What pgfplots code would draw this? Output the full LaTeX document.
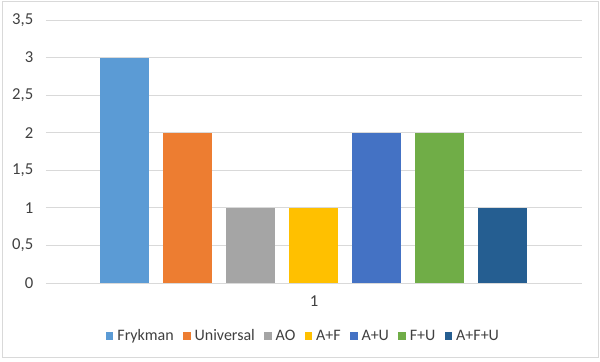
\documentclass[border=0pt]{standalone}
\usepackage{pgfplots}
\pgfplotsset{compat=1.18}
\usepackage{fontspec}
\setmainfont{Carlito}
\definecolor{c1}{HTML}{5B9BD5}
\definecolor{c2}{HTML}{ED7D31}
\definecolor{c3}{HTML}{A5A5A5}
\definecolor{c4}{HTML}{FFC000}
\definecolor{c5}{HTML}{4472C4}
\definecolor{c6}{HTML}{70AD47}
\definecolor{c7}{HTML}{255E91}
\definecolor{gridc}{HTML}{D9D9D9}
\definecolor{txt}{HTML}{404040}
\begin{document}
\begin{tikzpicture}
\useasboundingbox (0,0) rectangle (450pt,270.75pt);
\draw[gridc, line width=0.75pt] (1.5pt,3pt) rectangle (448.5pt,269.25pt);
\begin{axis}[
  at={(34.5pt,58.5pt)}, anchor=south west,
  scale only axis, width=402pt, height=197.25pt,
  ybar=10.5pt, bar width=36.75pt,
  xmin=-0.5, xmax=0.5, ymin=0, ymax=3.5,
  ytick={0,0.5,1,1.5,2,2.5,3,3.5},
  xtick={0}, xticklabels={1},
  ymajorgrids, grid style={gridc, line width=0.75pt},
  axis y line*=left, axis x line*=bottom,
  y axis line style={draw=none},
  x axis line style={gridc, line width=0.75pt},
  major tick length=0pt,
  /pgf/number format/assume math mode=true,
  /pgf/number format/use comma,
  yticklabel style={font=\fontsize{12.5}{14}\selectfont, text=txt, xshift=-6pt},
  xticklabel style={font=\fontsize{12.5}{14}\selectfont, text=txt, yshift=-6pt},
  legend columns=-1,
  legend style={draw=none, at={(0.481,-0.2015)}, anchor=center,
    font=\fontsize{12}{14}\selectfont, text=txt,
    /tikz/every odd column/.append style={column sep=1pt},
    /tikz/every even column/.append style={column sep=5pt}},
  legend image code/.code={\fill[#1] (0pt,-2.8pt) rectangle (5.6pt,2.8pt);},
]
\addplot[fill=c1, draw=none] coordinates {(0,3)};
\addplot[fill=c2, draw=none] coordinates {(0,2)};
\addplot[fill=c3, draw=none] coordinates {(0,1)};
\addplot[fill=c4, draw=none] coordinates {(0,1)};
\addplot[fill=c5, draw=none] coordinates {(0,2)};
\addplot[fill=c6, draw=none] coordinates {(0,2)};
\addplot[fill=c7, draw=none] coordinates {(0,1)};
\legend{Frykman,Universal,AO,A+F,A+U,F+U,A+F+U}
\end{axis}
\end{tikzpicture}
\end{document}
